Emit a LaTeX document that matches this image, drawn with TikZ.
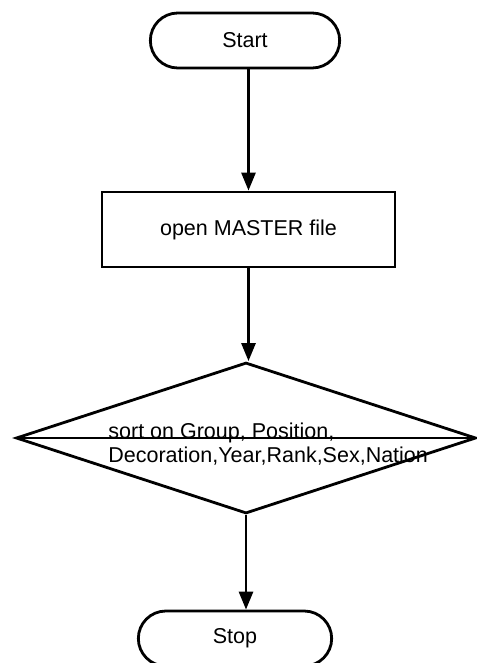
\documentclass[tikz,border=0pt]{standalone}
\usepackage{fontspec}
\setmainfont{Liberation Sans}
\usetikzlibrary{shapes.misc,shapes.geometric,arrows.meta}
\begin{document}
\begin{tikzpicture}[x=1pt,y=-1pt,line width=2.8pt,
    term/.style={draw,rounded rectangle,minimum width=196pt,minimum height=55pt},
    flow/.style={-{Triangle[length=18pt,width=14pt]}},
    font=\fontsize{21.5}{24}\selectfont]
    \useasboundingbox (0,0) rectangle (476,663);
    \node[term](S) at (245,40.5) {Start};
    \node[draw,minimum width=293pt,minimum height=75pt](O) at (248.5,229.5) {open MASTER file};
    \node[draw,diamond,minimum width=460pt,minimum height=151pt,inner sep=0pt](D) at (246,438) {};
    \node[align=left,anchor=base west,inner sep=0pt](T) at (107,462) {sort on Group, Position,\\Decoration,Year,Rank,Sex,Nation};
    \node[term,minimum width=200pt](E) at (235,638.5) {Stop};
    \draw[flow] (S.south -| O.north) -- (O.north);
    \draw[flow] (O.south) -- (O.south |- D.north);
    \draw (D.west) -- (D.east);
    \draw[flow] (D.south) -- (D.south |- E.north);
\end{tikzpicture}
\end{document}
